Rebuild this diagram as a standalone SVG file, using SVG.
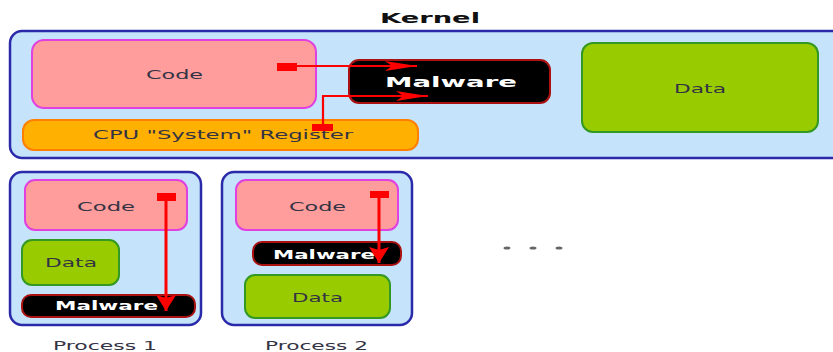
<svg xmlns="http://www.w3.org/2000/svg" width="833" height="352" viewBox="0 0 833 352">
  <style>
    .lbl { font-family: "DejaVu Sans", "Liberation Sans", sans-serif; font-size: 13px; fill: #333344; }
    .bold { font-weight: bold; }
    .white { fill: #ffffff; font-weight: bold; font-size: 13px; }
    .area { fill: #c5e3fb; stroke: #2a2aaa; stroke-width: 2.5; }
    .code { fill: #ff9c9c; stroke: #e040e0; stroke-width: 2; }
    .data { fill: #99cc00; stroke: #339922; stroke-width: 2; }
    .mal { fill: #000000; stroke: #aa1111; stroke-width: 2; }
    .reg { fill: #ffb000; stroke: #ff7f00; stroke-width: 2; }
    .wire { stroke: #ff0000; stroke-width: 3; fill: none; }
    .thin { stroke-width: 2.2; }
    .tab { fill: #ff0000; }
  </style>
  <defs>
    <marker id="headLong" markerUnits="userSpaceOnUse" markerWidth="34" markerHeight="14" refX="32" refY="7" orient="auto">
      <path d="M0,2 L32,7 L0,12 L7,7 Z" fill="#ff0000"/>
    </marker>
    <marker id="headWide" markerUnits="userSpaceOnUse" markerWidth="18" markerHeight="22" refX="16" refY="11" orient="auto">
      <path d="M0,1 L16,11 L0,21 L3,11 Z" fill="#ff0000"/>
    </marker>
  </defs>

  <rect width="833" height="352" fill="#ffffff"/>

  <text class="lbl bold" x="380" y="23" textLength="100" lengthAdjust="spacingAndGlyphs" style="font-size:14px;fill:#111">Kernel</text>

  <g id="kernel">
    <rect class="area" x="10" y="31" width="840" height="127" rx="12"/>
  </g>
  <g id="kernel-code">
    <rect class="code" x="32" y="40" width="284" height="68" rx="12"/>
    <text class="lbl" x="146" y="79" textLength="57" lengthAdjust="spacingAndGlyphs">Code</text>
  </g>
  <g id="kernel-register">
    <rect class="reg" x="23" y="120" width="395" height="30" rx="11"/>
    <text class="lbl" x="93" y="139" textLength="260" lengthAdjust="spacingAndGlyphs">CPU "System" Register</text>
  </g>
  <g id="kernel-malware">
    <rect class="mal" x="349" y="60" width="201" height="43" rx="10"/>
    <text class="lbl white" x="385" y="87" textLength="132" lengthAdjust="spacingAndGlyphs" style="font-size:14px">Malware</text>
  </g>
  <g id="kernel-data">
    <rect class="data" x="582" y="43" width="236" height="89" rx="11"/>
    <text class="lbl" x="674" y="93" textLength="52" lengthAdjust="spacingAndGlyphs">Data</text>
  </g>

  <g id="process1">
    <rect class="area" x="10" y="172" width="191" height="153" rx="12"/>
  </g>
  <g id="p1-code">
    <rect class="code" x="25" y="180" width="162" height="50" rx="10"/>
    <text class="lbl" x="77" y="211" textLength="58" lengthAdjust="spacingAndGlyphs">Code</text>
  </g>
  <g id="p1-data">
    <rect class="data" x="22" y="240" width="97" height="45" rx="10"/>
    <text class="lbl" x="45" y="267" textLength="52" lengthAdjust="spacingAndGlyphs">Data</text>
  </g>
  <g id="p1-malware">
    <rect class="mal" x="22" y="295" width="173" height="22" rx="9"/>
    <text class="lbl white" x="55" y="310" textLength="103" lengthAdjust="spacingAndGlyphs">Malware</text>
  </g>
  <text class="lbl" x="53" y="350" textLength="104" lengthAdjust="spacingAndGlyphs">Process 1</text>

  <g id="process2">
    <rect class="area" x="222" y="172" width="190" height="153" rx="12"/>
  </g>
  <g id="p2-code">
    <rect class="code" x="236" y="180" width="162" height="50" rx="10"/>
    <text class="lbl" x="289" y="211" textLength="57" lengthAdjust="spacingAndGlyphs">Code</text>
  </g>
  <g id="p2-malware">
    <rect class="mal" x="253" y="242" width="148" height="23" rx="9"/>
    <text class="lbl white" x="273" y="259" textLength="102" lengthAdjust="spacingAndGlyphs">Malware</text>
  </g>
  <g id="p2-data">
    <rect class="data" x="245" y="275" width="145" height="43" rx="10"/>
    <text class="lbl" x="292" y="302" textLength="51" lengthAdjust="spacingAndGlyphs">Data</text>
  </g>
  <text class="lbl" x="265" y="350" textLength="103" lengthAdjust="spacingAndGlyphs">Process 2</text>

  <g id="more" fill="#666666">
    <ellipse cx="507" cy="248" rx="3.5" ry="1.6"/>
    <ellipse cx="533" cy="248" rx="3.5" ry="1.6"/>
    <ellipse cx="559" cy="248" rx="3.5" ry="1.6"/>
  </g>

  <g id="connectors">
    <rect class="tab" x="277" y="63" width="20" height="8"/>
    <path class="wire thin" d="M297,66 H417" marker-end="url(#headLong)"/>
    <rect class="tab" x="312" y="124" width="21" height="7"/>
    <path class="wire thin" d="M323,125 V96 H428" marker-end="url(#headLong)"/>
    <rect class="tab" x="157" y="193" width="19" height="8"/>
    <path class="wire" d="M166,201 V311" marker-end="url(#headWide)"/>
    <rect class="tab" x="370" y="191" width="19" height="7"/>
    <path class="wire" d="M379,198 V263" marker-end="url(#headWide)"/>
  </g>
</svg>
